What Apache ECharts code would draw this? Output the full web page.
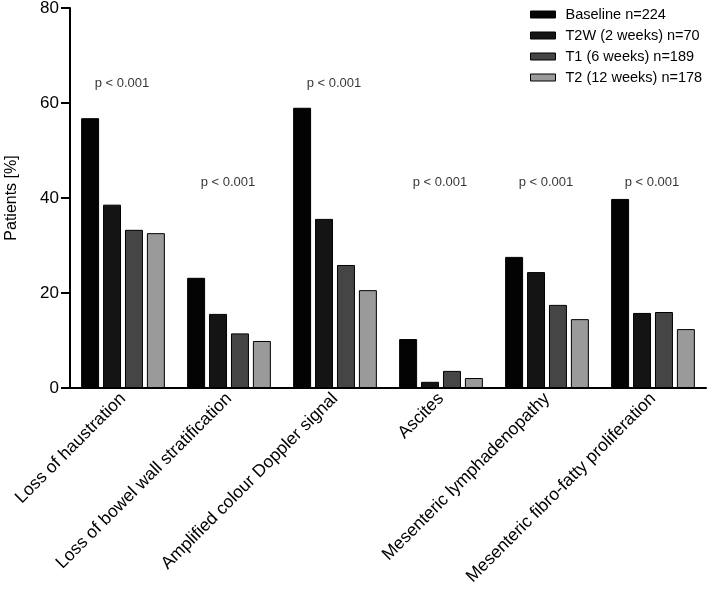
<!DOCTYPE html>
<html>
<head>
<meta charset="utf-8">
<script src="https://cdn.jsdelivr.net/npm/echarts@6/dist/echarts.min.js"></script>
<style>html,body{margin:0;padding:0;background:#fff;}#c{width:708px;height:593px;}</style>
</head>
<body>
<div id="c"></div>
<script>
const categories = ["Loss of haustration", "Loss of bowel wall stratification", "Amplified colour Doppler signal", "Ascites", "Mesenteric lymphadenopathy", "Mesenteric fibro-fatty proliferation"];
const seriesNames = ["Baseline n=224", "T2W (2 weeks) n=70", "T1 (6 weeks) n=189", "T2 (12 weeks) n=178"];
const baseline = [56.8, 23.2, 59.0, 10.3, 27.6, 39.8];
const t2w = [38.6, 15.6, 35.6, 1.3, 24.4, 15.8];
const t1 = [33.3, 11.5, 25.9, 3.6, 17.5, 16.0];
const t2 = [32.6, 9.9, 20.6, 2.1, 14.5, 12.4];
const pText = ["p < 0.001", "p < 0.001", "p < 0.001", "p < 0.001", "p < 0.001", "p < 0.001"];
const pLevel = [64.2, 43.2, 64.2, 43.2, 43.2, 43.2];
const yTicks = [0, 20, 40, 60, 80];

const colors = ["#030303", "#141414", "#454545", "#9a9a9a"];
const values = [baseline, t2w, t1, t2];
const FONT = "Liberation Sans";

const barSeries = values.map((v, i) => ({
  name: seriesNames[i],
  type: 'bar',
  data: v,
  barGap: '22%',
  barCategoryGap: '21%',
  itemStyle: { color: colors[i], borderColor: '#000', borderWidth: 1 },
  emphasis: { disabled: true }
}));

const chart = echarts.init(document.getElementById('c'));
chart.setOption({
  animation: false,
  backgroundColor: '#fff',
  textStyle: { fontFamily: FONT },
  grid: { left: 70, right: 2, top: 8, bottom: 205, containLabel: false, outerBoundsMode: 'none' },
  legend: {
    left: 525, top: 2, orient: 'vertical', itemWidth: 25, itemHeight: 7, itemGap: 6,
    icon: 'rect',
    textStyle: { fontFamily: FONT, fontSize: 14.5, color: '#000', padding: [0, 0, 0, 5] },
    data: seriesNames.map((n, i) => ({ name: n, itemStyle: { color: colors[i], borderColor: '#000', borderWidth: 1 } }))
  },
  xAxis: {
    type: 'category', data: categories,
    axisLine: { lineStyle: { color: '#000', width: 2 } },
    axisTick: { show: false },
    axisLabel: { rotate: 45, interval: 0, fontSize: 17.5, color: '#000', fontFamily: FONT, margin: 8 }
  },
  yAxis: {
    type: 'value', min: 0, max: 80, interval: 20,
    name: 'Patients [%]', nameLocation: 'middle', nameGap: 50,
    nameTextStyle: { fontSize: 16, color: '#000', fontFamily: FONT },
    axisLine: { show: true, lineStyle: { color: '#000', width: 2 } },
    axisTick: { show: true, length: 9, lineStyle: { color: '#000', width: 2 } },
    axisLabel: { fontSize: 17, color: '#000', fontFamily: FONT, margin: 11,
      formatter: v => yTicks.includes(v) ? String(v) : '' },
    splitLine: { show: false }
  },
  series: barSeries.concat([{
    type: 'scatter',
    symbolSize: 0,
    silent: true,
    data: pLevel.map((y, i) => ({ value: [i, y], label: { formatter: pText[i] } })),
    label: { show: true, position: 'inside', offset: [-1, 0], fontSize: 13, color: '#000', fontFamily: FONT },
    tooltip: { show: false }
  }])
});
</script>
</body>
</html>
